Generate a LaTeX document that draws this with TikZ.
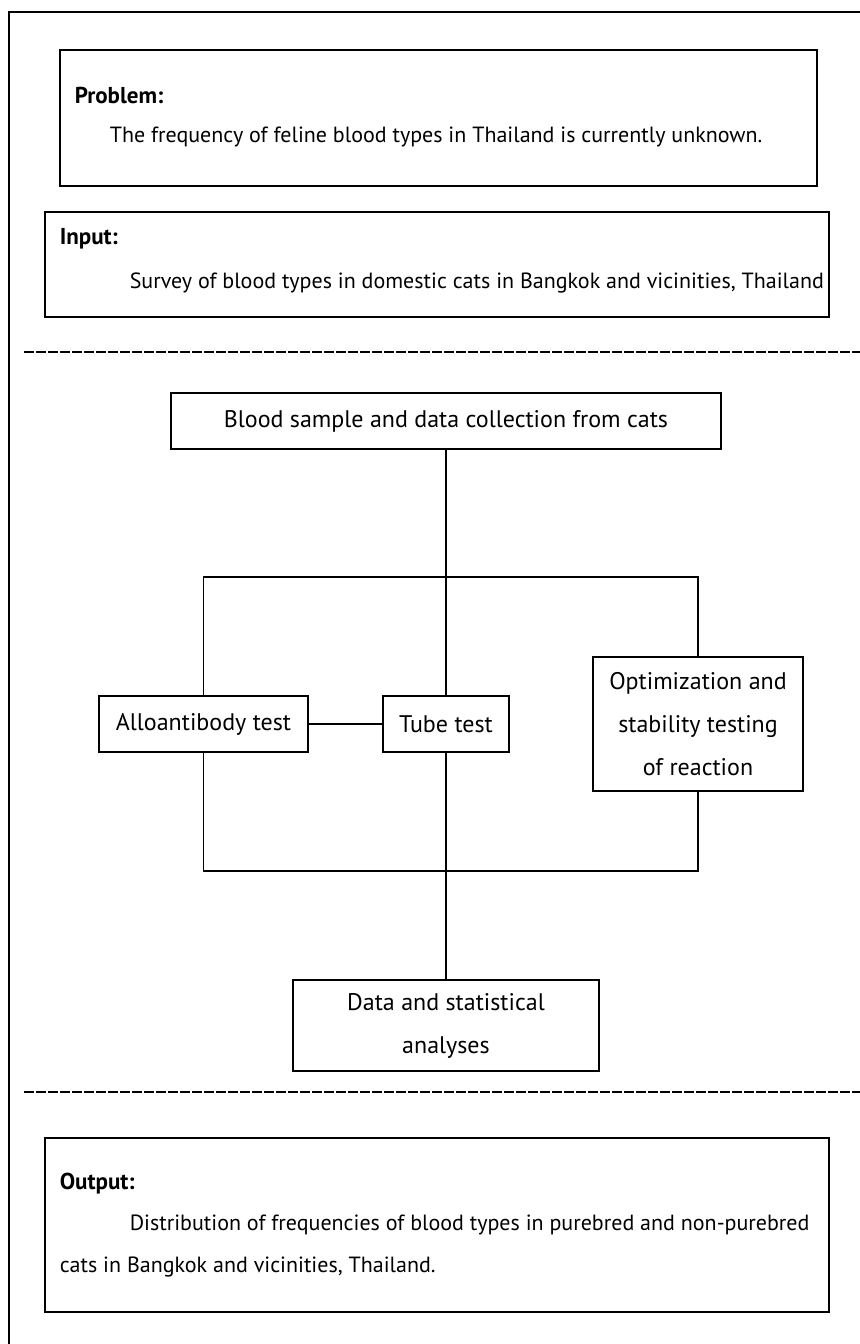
\documentclass[tikz,border=0pt]{standalone}
\usepackage{fontspec}
\setmainfont{PT Sans}
\usetikzlibrary{positioning,calc}

\begin{document}
\begin{tikzpicture}[x=0.5pt,y=-0.5pt,line width=0.8pt,
  main box/.style={draw,rectangle,inner sep=0pt,align=center,
    font=\fontsize{12}{21.5}\selectfont},
  info box/.style={draw,rectangle,inner sep=0pt},
  head text/.style={anchor=west,inner sep=0pt,font=\bfseries\fontsize{11.5}{13}\selectfont},
  body text/.style={anchor=west,inner sep=0pt,font=\fontsize{11}{13}\selectfont},
  cut line/.style={dash pattern=on 5pt off 1pt}]
    \useasboundingbox (0,0) rectangle (860,1344);
    % frame
    \draw (860,12) -- (9,12) -- (9,1344);

    % problem and input
    \node[info box,minimum width=378.5pt,minimum height=68pt](problem) at (438.5,118) {};
    \node[head text](problemhead) at (74,95) {Problem:};
    \node[body text](problemtext) at (109,137) {The frequency of feline blood types in Thailand is currently unknown.};
    \node[info box,minimum width=392pt,minimum height=52.5pt](input) at (437,264.5) {};
    \node[head text](inputhead) at (59,239) {Input:};
    \node[body text](inputtext) at (129,283) {Survey of blood types in domestic cats in Bangkok and vicinities, Thailand};

    \coordinate (cutA1) at (24,352);
    \coordinate (cutA2) at (860,352);
    \draw[cut line] (cutA1) -- (cutA2);

    % flow chart
    \node[main box,minimum width=275pt,minimum height=28pt](blood) at (446,421) {Blood sample and data collection from cats};
    \node[main box,minimum width=104.5pt,minimum height=28pt](allo) at (203.5,724) {Alloantibody test};
    \node[main box,minimum width=63pt,minimum height=28pt](tube) at (446,724) {Tube test};
    \node[main box,minimum width=105pt,minimum height=67pt](opt) at (698,724) {Optimization and\\stability testing\\of reaction};
    \node[main box,minimum width=153pt,minimum height=45.5pt](data) at (446,1025.5) {Data and statistical\\analyses};
    \coordinate (tophub) at (446,577);
    \coordinate (bothub) at (446,871);

    \draw (blood.south) -- (tube.north);
    \draw (tube.south) -- (data.north);
    \draw (allo.east) -- (tube.west);
    \draw (allo.north) |- (tophub) -| (opt.north);
    \draw (allo.south) |- (bothub) -| (opt.south);

    \coordinate (cutB1) at (24,1092);
    \coordinate (cutB2) at (860,1092);
    \draw[cut line] (cutB1) -- (cutB2);

    % output
    \node[info box,minimum width=392pt,minimum height=87pt](output) at (437,1225) {};
    \node[head text](outputhead) at (59,1184) {Output:};
    \node[body text](outputtext1) at (129,1225) {Distribution of frequencies of blood types in purebred and non-purebred};
    \node[body text](outputtext2) at (59,1267) {cats in Bangkok and vicinities, Thailand.};
\end{tikzpicture}
\end{document}
